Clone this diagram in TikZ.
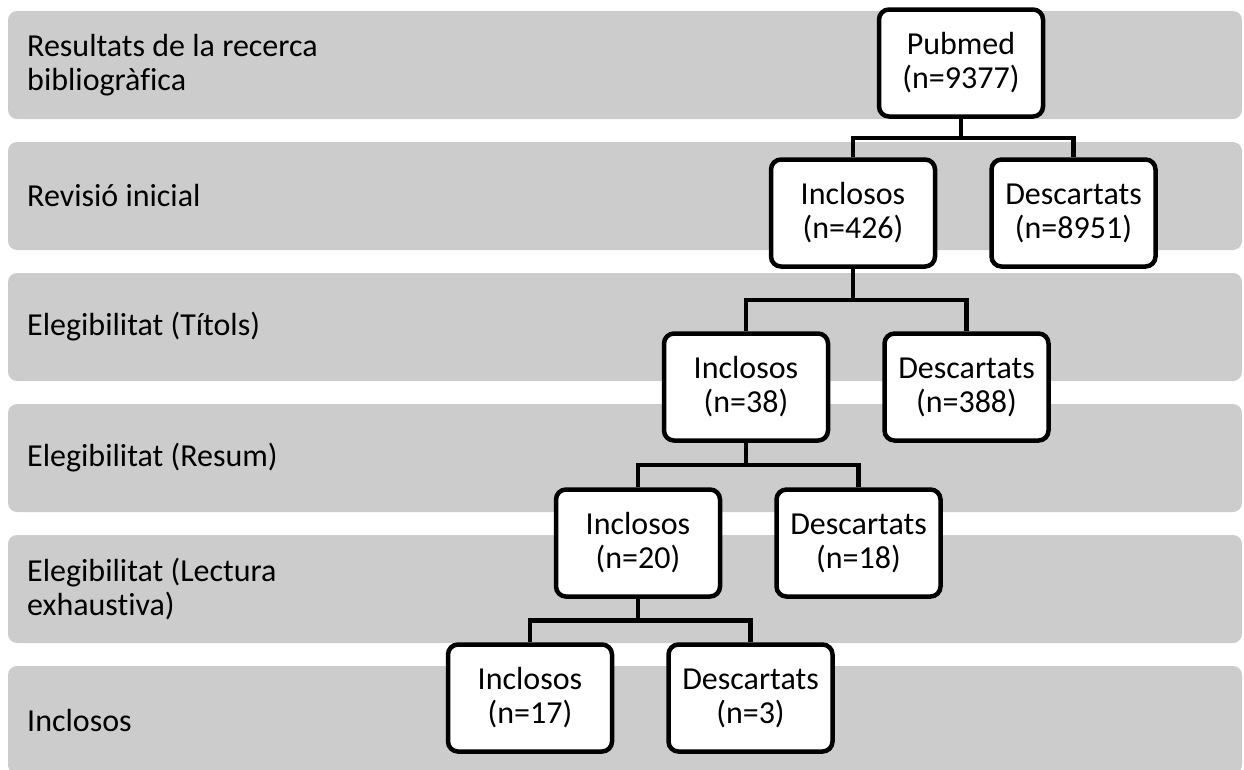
\documentclass[tikz,border=0pt]{standalone}
\usepackage{fontspec}
\setmainfont[Ligatures=NoCommon]{Carlito}
\usetikzlibrary{positioning, calc}
\definecolor{bandgray}{RGB}{204, 204, 204}

\begin{document}
\begin{tikzpicture}[
    x=1pt, y=-1pt,
    box/.style={
        draw, line width=4.5pt, fill=white, rounded corners=10pt,
        minimum width=164pt, minimum height=107pt, inner sep=2pt,
        align=center, font=\fontsize{32}{34}\selectfont
    },
    stage/.style={
        anchor=west, align=left, inner sep=0pt, font=\fontsize{32}{34}\selectfont
    },
    link/.style={line width=4.5pt}
]

\useasboundingbox (0, 0) rectangle (1244, 769);
\clip (0, 0) rectangle (1244, 769);

% Stage bands
\foreach \i in {0,...,5} {
    \fill[bandgray, rounded corners=9pt] (8, 11+131*\i) rectangle (1242, 119+131*\i);
}

% Stage labels
\node[stage] (lab1) at (27, 65) {Resultats de la recerca\\bibliogràfica};
\node[stage] (lab2) at (27, 196) {Revisió inicial};
\node[stage] (lab3) at (27, 327) {Elegibilitat (Títols)};
\node[stage] (lab4) at (27, 458) {Elegibilitat (Resum)};
\node[stage] (lab5) at (27, 589) {Elegibilitat (Lectura\\exhaustiva)};
\node[stage] (lab6) at (27, 720) {Inclosos};

% Boxes
\node[box] (pub) at (961, 63) {Pubmed\\(n=9377)};
\node[box] (inc1) at (853, 213) {Inclosos\\(n=426)};
\node[box, right=52pt of inc1] (desc1) {Descartats\\(n=8951)};
\node[box] (inc2) at (746, 387) {Inclosos\\(n=38)};
\node[box, right=52pt of inc2] (desc2) {Descartats\\(n=388)};
\node[box] (inc3) at (638, 543) {Inclosos\\(n=20)};
\node[box, right=52pt of inc3] (desc3) {Descartats\\(n=18)};
\node[box] (inc4) at (530, 698) {Inclosos\\(n=17)};
\node[box, right=52pt of inc4] (desc4) {Descartats\\(n=3)};

% Connectors
\coordinate (bar1) at ($(pub.south)!0.5!(inc1.north)$);
\draw[link] (pub.south) -- (pub.south |- bar1);
\draw[link] (inc1.north) |- (bar1) -| (desc1.north);

\coordinate (bar2) at ($(inc1.south)!0.5!(inc2.north)$);
\draw[link] (inc1.south) -- (inc1.south |- bar2);
\draw[link] (inc2.north) |- (bar2) -| (desc2.north);

\coordinate (bar3) at ($(inc2.south)!0.5!(inc3.north)$);
\draw[link] (inc2.south) -- (inc2.south |- bar3);
\draw[link] (inc3.north) |- (bar3) -| (desc3.north);

\coordinate (bar4) at ($(inc3.south)!0.5!(inc4.north)$);
\draw[link] (inc3.south) -- (inc3.south |- bar4);
\draw[link] (inc4.north) |- (bar4) -| (desc4.north);

\end{tikzpicture}
\end{document}
